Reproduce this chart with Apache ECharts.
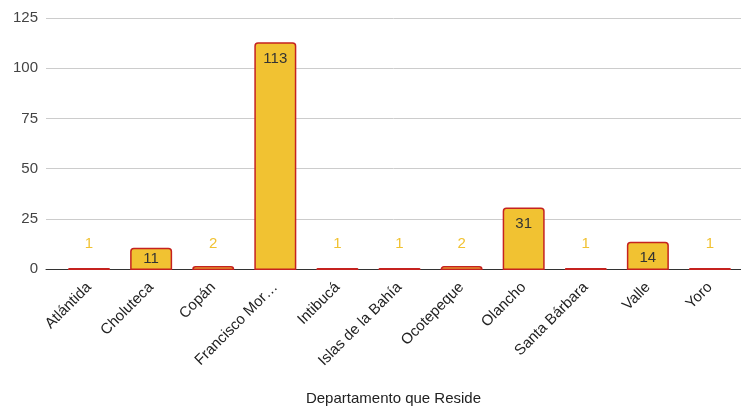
<!DOCTYPE html>
<html>
<head>
<meta charset="utf-8">
<script src="https://cdn.jsdelivr.net/npm/echarts@6/dist/echarts.min.js"></script>
<style>html,body{margin:0;padding:0;background:#fff}#c{width:741px;height:411px}</style>
</head>
<body>
<div id="c"></div>
<script>
var categories = ["Atlántida","Choluteca","Copán","Francisco Mor…","Intibucá","Islas de la Bahía","Ocotepeque","Olancho","Santa Bárbara","Valle","Yoro"];
var values = [1, 11, 2, 113, 1, 1, 2, 31, 1, 14, 1];
var yTicks = [0, 25, 50, 75, 100, 125];
var xTitle = "Departamento que Reside";

var FONT = '"Liberation Sans", Arial, sans-serif';
var chart = echarts.init(document.getElementById('c'));
var data = values.map(function (v) {
  var small = v < 5;
  return {
    value: v,
    label: small ? { position: 'top', distance: v === 1 ? 17 : 15, color: '#f1c232' }
                 : { position: 'insideTop', distance: v < 12 ? 4 : 9, color: '#333333' }
  };
});
chart.setOption({
  animation: false,
  grid: [
    { left: 46, right: 0, top: 18, bottom: 141 },
    { left: 58, right: -2, top: 18, bottom: 141 }
  ],
  xAxis: [
    { gridIndex: 0, type: 'category', data: categories,
      axisLine: { show: true, lineStyle: { color: '#333333', width: 1 } },
      axisTick: { show: false }, axisLabel: { show: false },
      name: xTitle, nameLocation: 'middle', nameGap: 122,
      nameTextStyle: { fontFamily: FONT, fontSize: 15, color: '#222222' } },
    { gridIndex: 1, type: 'category', data: categories,
      axisLine: { show: false }, axisTick: { show: false },
      axisLabel: { rotate: 45, interval: 0, margin: 15, fontFamily: FONT, fontSize: 15, color: '#222222' } }
  ],
  yAxis: [
    { gridIndex: 0, type: 'value', min: yTicks[0], max: yTicks[yTicks.length - 1], interval: 25,
      axisLine: { show: false }, axisTick: { show: false },
      axisLabel: { margin: 8, fontFamily: FONT, fontSize: 15, color: '#444444' },
      splitLine: { lineStyle: { color: '#cccccc', width: 1 } } },
    { gridIndex: 1, type: 'value', min: yTicks[0], max: yTicks[yTicks.length - 1], interval: 25, show: false,
      splitLine: { show: false } }
  ],
  series: [{
    type: 'bar', xAxisIndex: 1, yAxisIndex: 1,
    data: data, barWidth: 42,
    itemStyle: { color: '#f1c232', borderColor: '#c5221f', borderWidth: 1.5, borderRadius: [3, 3, 0, 0] },
    label: { show: true, fontFamily: FONT, fontSize: 15 }
  }]
});
</script>
</body>
</html>
